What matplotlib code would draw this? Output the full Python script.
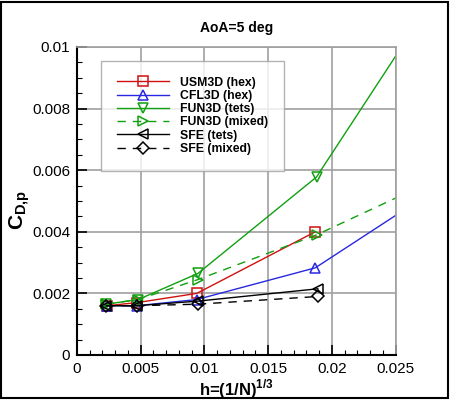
import matplotlib
matplotlib.use('Agg')
import matplotlib.pyplot as plt
from matplotlib.ticker import MultipleLocator

plt.rcParams['font.family'] = ['Liberation Sans', 'DejaVu Sans']
plt.rcParams['mathtext.fontset'] = 'custom'
plt.rcParams['mathtext.rm'] = 'Liberation Sans'
plt.rcParams['mathtext.bf'] = 'Liberation Sans:bold'

# grid spacing h and pressure drag for each code (last point is off the chart, only the line shows)
h_usm3d = [0.00235, 0.0047, 0.0094, 0.0187]
cd_usm3d = [0.0016, 0.0017, 0.00200, 0.0040]

h_cfl3d = [0.00235, 0.0047, 0.0094, 0.0187, 0.0375]
cd_cfl3d = [0.0016, 0.0016, 0.00180, 0.00283, 0.0079]

h_fun3d_tets = [0.0023, 0.0048, 0.0095, 0.0188, 0.0375]
cd_fun3d_tets = [0.00165, 0.0018, 0.00265, 0.00578, 0.0176]

h_fun3d_mixed = [0.0023, 0.0048, 0.0095, 0.0188, 0.0375]
cd_fun3d_mixed = [0.00165, 0.0018, 0.00245, 0.0039, 0.0075]

h_sfe_tets = [0.0023, 0.0047, 0.0095, 0.0189]
cd_sfe_tets = [0.0016, 0.0016, 0.00175, 0.00215]

h_sfe_mixed = [0.0023, 0.0047, 0.0095, 0.0189]
cd_sfe_mixed = [0.0016, 0.0016, 0.00165, 0.0019]

x_ticks = [0, 0.005, 0.01, 0.015, 0.02, 0.025]
x_labels = ['0', '0.005', '0.01', '0.015', '0.02', '0.025']
y_ticks = [0, 0.002, 0.004, 0.006, 0.008, 0.01]
y_labels = ['0', '0.002', '0.004', '0.006', '0.008', '0.01']

fig = plt.figure(figsize=(4.5, 4.0), dpi=100)
ax = fig.add_axes([0.171, 0.1125, 0.708, 0.77])

mk = dict(markersize=7, markerfacecolor='none', markeredgewidth=1.1, linewidth=1.0)
ax.plot(h_usm3d, cd_usm3d, '-', color='#d01010', marker='s', label='USM3D (hex)', **mk)
ax.plot(h_cfl3d, cd_cfl3d, '-', color='#2828e0', marker='^', label='CFL3D (hex)', **mk)
ax.plot(h_fun3d_tets, cd_fun3d_tets, '-', color='#10a010', marker='v', label='FUN3D (tets)', **mk)
ax.plot(h_fun3d_mixed, cd_fun3d_mixed, '--', color='#10a010', marker='>', label='FUN3D (mixed)',
        dashes=(6, 5), **mk)
ax.plot(h_sfe_tets, cd_sfe_tets, '-', color='black', marker='<', label='SFE (tets)', **mk)
ax.plot(h_sfe_mixed, cd_sfe_mixed, '--', color='black', marker='D', label='SFE (mixed)',
        dashes=(6, 5), **{**mk, 'markersize': 6})

ax.set_xticks(x_ticks)
ax.set_xticklabels(x_labels)
ax.set_yticks(y_ticks)
ax.set_yticklabels(y_labels)
ax.xaxis.set_minor_locator(MultipleLocator(0.001))
ax.yaxis.set_minor_locator(MultipleLocator(0.0005))
ax.set_xlim(0, 0.025)
ax.set_ylim(0, 0.01)

ax.grid(True, which='major', color='#a0a0a0', linewidth=1.2)
ax.set_axisbelow(True)
ax.tick_params(which='both', direction='in', top=False, right=False, labelsize=11, pad=5)
ax.tick_params(which='major', length=7, width=1.2)
ax.tick_params(which='minor', length=3.5, width=0.8)
for s in ['left', 'bottom']:
    ax.spines[s].set_linewidth(1.5)
for s in ['top', 'right']:
    ax.spines[s].set_color('#a0a0a0')
    ax.spines[s].set_linewidth(1.2)

ax.set_title('AoA=5 deg', fontsize=10, fontweight='bold', pad=11)
ax.set_xlabel(r'h=(1/N)$^{\mathbf{1/3}}$', fontsize=12, fontweight='bold', labelpad=1)
ax.set_ylabel(r'$\mathbf{C}_{\mathbf{D{,}p}}$', fontsize=15)
ax.yaxis.set_label_coords(-0.14, 0.47)

leg = ax.legend(loc='upper left', bbox_to_anchor=(0.075, 0.955),
                prop={'weight': 'bold', 'size': 8.8}, frameon=True, fancybox=False,
                handlelength=4.3, handletextpad=0.85, labelspacing=0.1,
                borderpad=1.3, borderaxespad=0)
leg.get_frame().set_edgecolor('#a0a0a0')
leg.get_frame().set_linewidth(1.0)

fig.patches.append(plt.Rectangle((0.003, 0.004), 0.992, 0.992, transform=fig.transFigure,
                                 fill=False, edgecolor='black', linewidth=1.5))

fig.savefig('out.png', dpi=100)
